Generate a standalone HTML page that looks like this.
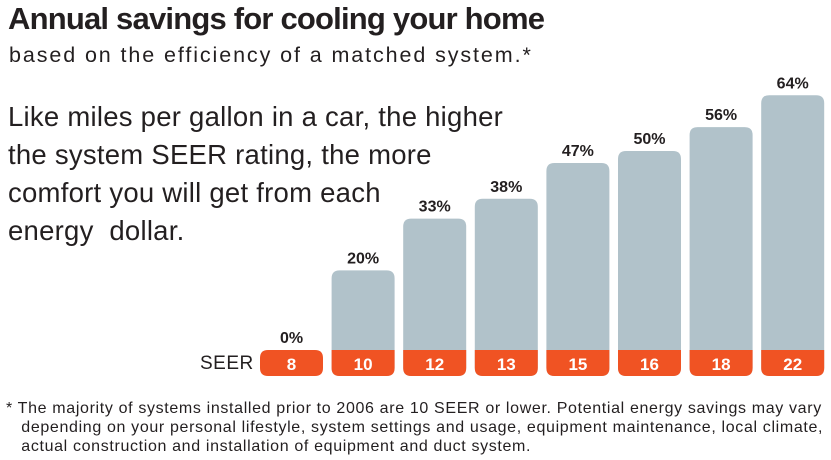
<!DOCTYPE html>
<html><head><meta charset="utf-8"><style>
body{margin:0;width:831px;height:460px;background:#fff;font-family:"Liberation Sans",sans-serif;color:#231f20;overflow:hidden;position:relative}
.t{position:absolute;white-space:nowrap}
</style></head><body>
<div class="t" style="left:8px;top:1px;font-size:31px;font-weight:bold;letter-spacing:-0.8px">Annual savings for cooling your home</div>
<div class="t" style="left:9px;top:43px;font-size:21.5px;letter-spacing:1.9px">based on the efficiency of a matched system.*</div>
<div class="t" style="left:8px;top:98px;font-size:27.5px;line-height:38px;letter-spacing:0.25px">Like miles per gallon in a car, the higher<br>the system SEER rating, the more<br>comfort you will get from each<br>energy&nbsp; dollar.</div>
<div class="t" style="left:200px;top:353px;font-size:19px;letter-spacing:0.5px">SEER</div>
<svg id="c" width="831" height="460" style="position:absolute;left:0;top:0"></svg>
<div class="t" style="left:6px;top:399px;font-size:16px;line-height:19px;letter-spacing:0.65px">* The majority of systems installed prior to 2006 are 10 SEER or lower. Potential energy savings may vary<br>&nbsp;&nbsp;&nbsp;depending on your personal lifestyle, system settings and usage, equipment maintenance, local climate,<br>&nbsp;&nbsp;&nbsp;actual construction and installation of equipment and duct system.</div>
<script>
const seer=["8","10","12","13","15","16","18","22"];
const savings=[0,20,33,38,47,50,56,64];
const svg=document.getElementById('c');
const NS='http://www.w3.org/2000/svg';
const x0=260,pitch=71.6,bw=63,base=350,lh=26,perPct=3.98,r=8;
function xs(i){return x0+i*pitch;}
function ys(v){return base-v*perPct;}
function mk(t,a){const e=document.createElementNS(NS,t);for(const k in a)e.setAttribute(k,a[k]);svg.appendChild(e);return e;}
function rr(x,y,w,h,tl,bl){return `M${x},${y+tl}Q${x},${y} ${x+tl},${y}H${x+w-tl}Q${x+w},${y} ${x+w},${y+tl}V${y+h-bl}Q${x+w},${y+h} ${x+w-bl},${y+h}H${x+bl}Q${x},${y+h} ${x},${y+h-bl}Z`;}
savings.forEach((v,i)=>{
  const x=xs(i),top=ys(v);
  if(v>0){
    const b=mk('path',{d:rr(x,top,bw,base+lh-top,r,r),fill:'#b1c2ca'});
    
    
    const o=mk('path',{d:`M${x},${base}H${x+bw}V${base+lh-r}Q${x+bw},${base+lh} ${x+bw-r},${base+lh}H${x+r}Q${x},${base+lh} ${x},${base+lh-r}Z`,fill:'#f05323'});
    
    
  } else {
    const o=mk('path',{d:rr(x,base,bw,lh,r,r),fill:'#f05323'});
    
    
  }
  const s=mk('text',{x:x+bw/2,y:base+20,'text-anchor':'middle','font-size':17,'font-weight':'bold',fill:'#fff','font-family':'Liberation Sans, sans-serif'});
  s.textContent=seer[i];
  
  
  const p=mk('text',{x:x+bw/2,y:top-7,'text-anchor':'middle','font-size':16,'font-weight':'bold',fill:'#231f20','font-family':'Liberation Sans, sans-serif'});
  p.textContent=v+'%';
  
  
});
</script>
</body></html>
